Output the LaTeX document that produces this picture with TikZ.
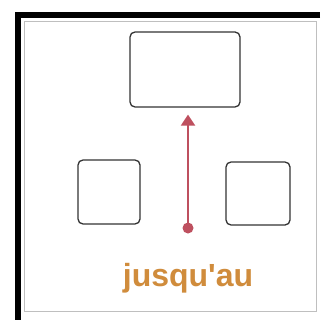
\documentclass[tikz,border=0pt]{standalone}
\usepackage{fontspec}
\setmainfont{Liberation Sans}
\newfontfamily\lblfont{Liberation Sans}[Ligatures=TeXOff]
\usetikzlibrary{arrows.meta}
\definecolor{arrowred}{RGB}{190,80,95}
\definecolor{txtorange}{RGB}{208,140,60}
\tikzset{
  box/.style={draw=black!80, line width=1.3pt, rounded corners=5pt, fill=white, inner sep=0pt},
}
\begin{document}
\begin{tikzpicture}[x=1pt,y=-1pt]
\useasboundingbox (0,0) rectangle (320,320);
\fill[white] (0,0) rectangle (320,320);
\draw[black!25, line width=0.6pt] (24,21) rectangle (316,311);
\draw[black, line width=6pt] (320,15) -- (18,15) -- (18,320);
\node[box, minimum width=110pt, minimum height=75pt] (top) at (185,69.5) {};
\node[box, minimum width=62pt, minimum height=64pt] (left) at (109,192) {};
\node[box, minimum width=64pt, minimum height=63pt] (right) at (258,193.5) {};
\coordinate (start) at (188,228);
\fill[arrowred] (start) circle (5.5pt);
\draw[arrowred, line width=2pt, -{Triangle[length=11pt,width=14pt]}] (start) -- ([yshift=-7pt]top.south -| start);
\node[font=\lblfont\fontsize{32}{34}\selectfont\bfseries, text=txtorange] (lbl) at (188,278) {jusqu'au};
\end{tikzpicture}
\end{document}
